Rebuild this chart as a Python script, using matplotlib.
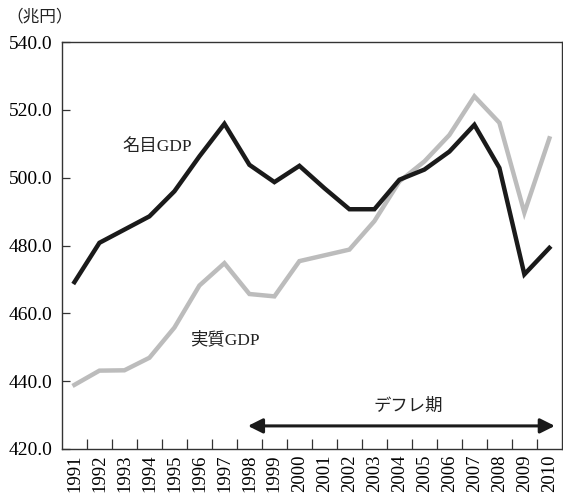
import numpy as np
import matplotlib
matplotlib.use('Agg')
import matplotlib.pyplot as plt
from matplotlib.ticker import FixedLocator

plt.rcParams['font.family'] = ['Liberation Serif', 'Noto Sans CJK JP']

years = [str(y) for y in range(1991, 2011)]
nominal = [469.2, 480.8, 484.7, 488.6, 496.0, 506.3, 515.9, 503.8, 498.7, 503.5,
           496.9, 490.7, 490.7, 499.4, 502.4, 507.7, 515.6, 502.9, 471.5, 479.3]
real = [438.9, 443.1, 443.2, 446.9, 455.8, 468.2, 474.8, 465.7, 465.0, 475.4,
        477.1, 478.8, 487.2, 498.9, 504.8, 512.6, 524.0, 516.2, 489.7, 511.6]
yticks = [420, 440, 460, 480, 500, 520, 540]

fig = plt.figure(figsize=(5.63, 4.95), dpi=100)
ax = fig.add_axes([0.110, 0.093, 0.888, 0.822])

x = np.arange(len(years))
ax.plot(x, real, color='#bcbcbc', lw=3.2, solid_joinstyle='miter')
ax.plot(x, nominal, color='#1a1a1a', lw=3.2, solid_joinstyle='miter')

ax.set_xlim(-0.5, len(years) - 0.5)
ax.set_ylim(420, 540)
ax.set_yticks(yticks)
ax.set_yticklabels([f'{v:.1f}' for v in yticks], fontsize=14)
ax.set_xticks(x)
ax.set_xticklabels(years, rotation=90, fontsize=13.5)
ax.xaxis.set_minor_locator(FixedLocator(np.arange(0.5, len(years) - 1, 1.0)))
ax.tick_params(axis='x', which='major', length=0, pad=4)
ax.tick_params(axis='x', which='minor', direction='in', length=7, width=0.9, color='#333333')
ax.tick_params(axis='y', direction='in', length=6, width=0.9, pad=7, color='#333333')
for s in ax.spines.values():
    s.set_linewidth(1.0)
    s.set_color('#333333')

ax.text(3.3, 509.0, '名目GDP', fontsize=12.5, ha='center', va='center', color='#222222')
ax.text(6.0, 452.1, '実質GDP', fontsize=12.5, ha='center', va='center', color='#222222')
ax.text(13.34, 432.3, 'デフレ期', fontsize=12.5, ha='center', va='center', color='#222222')
ax.annotate('', xy=(19.22, 426.8), xytext=(6.94, 426.8),
            arrowprops=dict(arrowstyle='<|-|>', color='#1a1a1a', lw=2.2,
                            mutation_scale=22, shrinkA=0, shrinkB=0))

fig.text(0.071, 0.964, '（兆円）', fontsize=12, ha='center', va='center', color='#222222')

fig.savefig('out.png', dpi=100)
